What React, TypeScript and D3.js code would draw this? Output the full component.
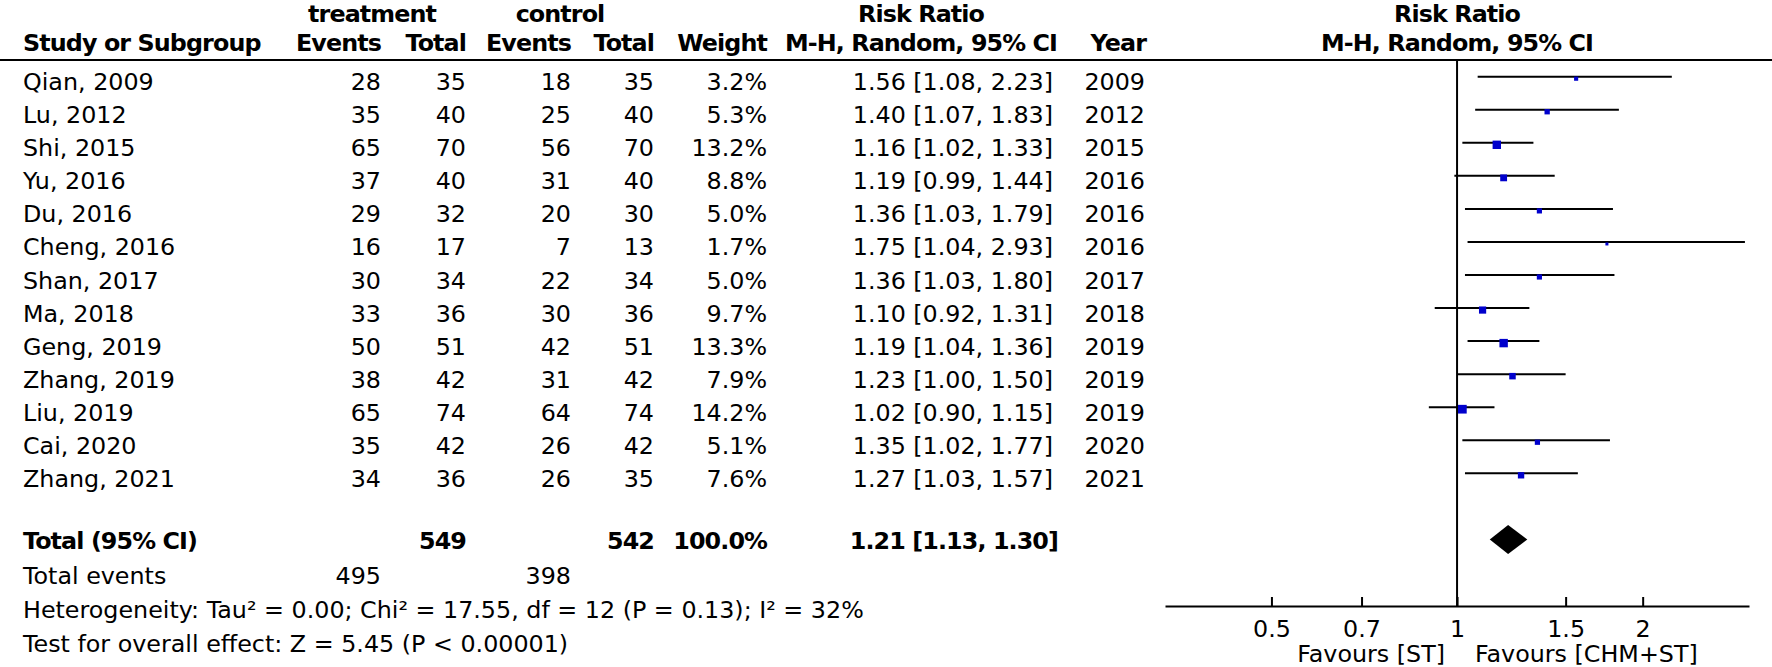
import React, { useEffect, useRef } from 'react'
import * as d3 from 'd3'

// study rows
const studies = [
  'Qian, 2009', 'Lu, 2012', 'Shi, 2015', 'Yu, 2016', 'Du, 2016', 'Cheng, 2016', 'Shan, 2017',
  'Ma, 2018', 'Geng, 2019', 'Zhang, 2019', 'Liu, 2019', 'Cai, 2020', 'Zhang, 2021',
]
const tEvents = [28, 35, 65, 37, 29, 16, 30, 33, 50, 38, 65, 35, 34]
const tTotal = [35, 40, 70, 40, 32, 17, 34, 36, 51, 42, 74, 42, 36]
const cEvents = [18, 25, 56, 31, 20, 7, 22, 30, 42, 31, 64, 26, 26]
const cTotal = [35, 40, 70, 40, 30, 13, 34, 36, 51, 42, 74, 42, 35]
const weights = [3.2, 5.3, 13.2, 8.8, 5.0, 1.7, 5.0, 9.7, 13.3, 7.9, 14.2, 5.1, 7.6]
const rr = [1.56, 1.40, 1.16, 1.19, 1.36, 1.75, 1.36, 1.10, 1.19, 1.23, 1.02, 1.35, 1.27]
const lower = [1.08, 1.07, 1.02, 0.99, 1.03, 1.04, 1.03, 0.92, 1.04, 1.00, 0.90, 1.02, 1.03]
const upper = [2.23, 1.83, 1.33, 1.44, 1.79, 2.93, 1.80, 1.31, 1.36, 1.50, 1.15, 1.77, 1.57]
const years = [2009, 2012, 2015, 2016, 2016, 2016, 2017, 2018, 2019, 2019, 2019, 2020, 2021]

// pooled result
const pooled = [1.21, 1.13, 1.30]
const totalN = [549, 542]
const totalEvents = [495, 398]

const tickValues = [0.5, 0.7, 1, 1.5, 2]
const tickLabels = ['0.5', '0.7', '1', '1.5', '2']

const FONT = 'DejaVu Sans'
const FS = 23.8
const BOLD_LS = -0.9

const ci = (r: number, l: number, u: number) => `${r.toFixed(2)} [${l.toFixed(2)}, ${u.toFixed(2)}]`

export default function App() {
  const axisRef = useRef<SVGGElement>(null)

  const x = d3.scaleLog().domain([0.336, 2.975]).range([1165, 1749])
  const y = d3.scalePoint<string>().domain(studies).range([76.7, 473.3])
  const size = d3.scaleSqrt().domain([0, 14.2]).range([0, 8.7])

  const totalY = 539.5
  const axisY = 606

  useEffect(() => {
    const g = d3.select(axisRef.current)
    g.call(
      d3.axisBottom(x)
        .tickValues(tickValues)
        .tickFormat((d, i) => tickLabels[i])
        .tickSizeInner(-9)
        .tickSizeOuter(0)
        .tickPadding(14) as any
    )
    g.attr('font-size', null).attr('font-family', null)
    g.select('.domain').attr('stroke', '#000').attr('stroke-width', 2)
    g.selectAll('.tick line').attr('stroke', '#000').attr('stroke-width', 2)
    g.selectAll('.tick text').attr('font-size', FS).attr('font-family', FONT).attr('fill', '#000')
  }, [])

  const bold = { fontWeight: 'bold', letterSpacing: BOLD_LS } as const

  return (
    <svg width={1772} height={667} style={{ position: 'absolute', left: 0, top: 0, background: '#fff' }}
      fontFamily={FONT} fontSize={FS} fill="#000">
      {/* headers */}
      <g style={bold}>
        <text x={372} y={21.5} textAnchor="middle">treatment</text>
        <text x={560} y={21.5} textAnchor="middle">control</text>
        <text x={921} y={21.5} textAnchor="middle">Risk Ratio</text>
        <text x={1457} y={21.5} textAnchor="middle">Risk Ratio</text>
        <text x={23} y={51}>Study or Subgroup</text>
        <text x={381} y={51} textAnchor="end">Events</text>
        <text x={466} y={51} textAnchor="end">Total</text>
        <text x={571} y={51} textAnchor="end">Events</text>
        <text x={654} y={51} textAnchor="end">Total</text>
        <text x={767} y={51} textAnchor="end">Weight</text>
        <text x={921} y={51} textAnchor="middle">M-H, Random, 95% CI</text>
        <text x={1146} y={51} textAnchor="end">Year</text>
        <text x={1457} y={51} textAnchor="middle">M-H, Random, 95% CI</text>
      </g>
      <line x1={0} x2={1772} y1={60} y2={60} stroke="#000" strokeWidth={2} />

      {/* study rows */}
      {studies.map((s, i) => {
        const ty = (y(s) as number) + 13.5
        return (
          <g key={s}>
            <text x={23} y={ty}>{s}</text>
            <text x={381} y={ty} textAnchor="end">{tEvents[i]}</text>
            <text x={466} y={ty} textAnchor="end">{tTotal[i]}</text>
            <text x={571} y={ty} textAnchor="end">{cEvents[i]}</text>
            <text x={654} y={ty} textAnchor="end">{cTotal[i]}</text>
            <text x={767} y={ty} textAnchor="end">{weights[i].toFixed(1)}%</text>
            <text x={1053} y={ty} textAnchor="end">{ci(rr[i], lower[i], upper[i])}</text>
            <text x={1145} y={ty} textAnchor="end">{years[i]}</text>
          </g>
        )
      })}

      {/* total rows */}
      <g style={bold}>
        <text x={23} y={totalY + 9}>Total (95% CI)</text>
        <text x={466} y={totalY + 9} textAnchor="end">{totalN[0]}</text>
        <text x={654} y={totalY + 9} textAnchor="end">{totalN[1]}</text>
        <text x={767} y={totalY + 9} textAnchor="end">100.0%</text>
        <text x={1058} y={totalY + 9} textAnchor="end">{ci(pooled[0], pooled[1], pooled[2])}</text>
      </g>
      <text x={23} y={584}>Total events</text>
      <text x={381} y={584} textAnchor="end">{totalEvents[0]}</text>
      <text x={571} y={584} textAnchor="end">{totalEvents[1]}</text>
      <text x={23} y={618}>Heterogeneity: Tau² = 0.00; Chi² = 17.55, df = 12 (P = 0.13); I² = 32%</text>
      <text x={23} y={652}>Test for overall effect: Z = 5.45 (P &lt; 0.00001)</text>

      {/* forest plot */}
      <line x1={x(1)} x2={x(1)} y1={60} y2={axisY} stroke="#000" strokeWidth={2} />
      {studies.map((s, i) => {
        const cy = y(s) as number
        const side = size(weights[i])
        return (
          <g key={'f' + s}>
            <line x1={x(lower[i])} x2={x(upper[i])} y1={cy} y2={cy} stroke="#000" strokeWidth={2} />
            <rect x={x(rr[i]) - side / 2} y={cy + 2 - side / 2} width={side} height={side} fill="#0000cc" />
          </g>
        )
      })}
      <polygon
        points={[
          [x(pooled[1]), totalY],
          [x(pooled[0]), totalY - 14.5],
          [x(pooled[2]), totalY],
          [x(pooled[0]), totalY + 14.5],
        ].map((p) => p.join(',')).join(' ')}
        fill="#000"
      />
      <g ref={axisRef} transform={`translate(0,${axisY})`} />
      <text x={1445} y={662}>
        <tspan textAnchor="end">Favours [ST]</tspan>
      </text>
      <text x={1475} y={662}>Favours [CHM+ST]</text>
    </svg>
  )
}
